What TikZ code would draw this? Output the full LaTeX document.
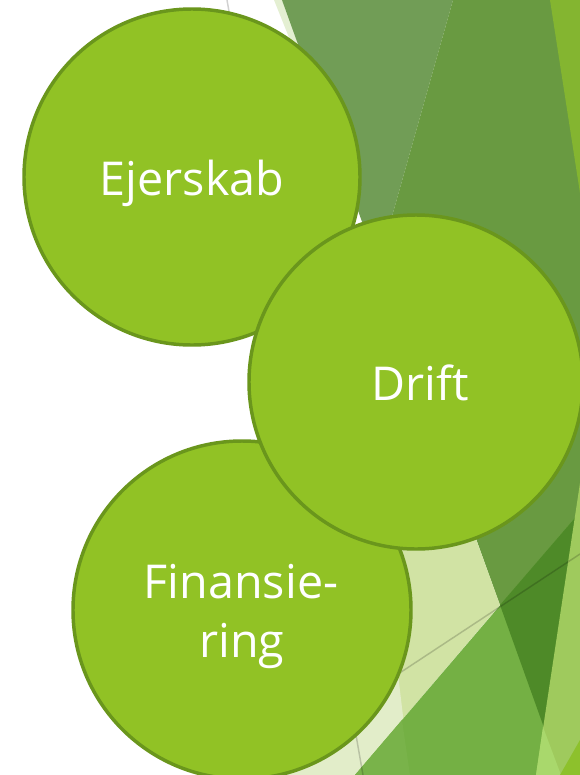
\documentclass[tikz,border=0pt]{standalone}
\usepackage{fontspec}
\setmainfont{Open Sans}
\definecolor{paleL}{HTML}{E2EDC9}
\definecolor{paleT}{HTML}{E4EFD2}
\definecolor{paleS}{HTML}{D1E3A4}
\definecolor{mutedL}{HTML}{719D56}
\definecolor{mutedD}{HTML}{699A41}
\definecolor{brightTR}{HTML}{84B530}
\definecolor{midG}{HTML}{74B044}
\definecolor{midGL}{HTML}{79B34A}
\definecolor{darkG}{HTML}{4E8A28}
\definecolor{lightG}{HTML}{9FCA5D}
\definecolor{lighterG}{HTML}{A9D86C}
\definecolor{brightBR}{HTML}{8DC12C}
\definecolor{circFill}{HTML}{91C225}
\definecolor{circLine}{HTML}{6A961C}
\tikzset{
  bubble/.style={circle, draw=circLine, fill=circFill, line width=2.6pt, inner sep=0pt, outer sep=0pt},
  lbl/.style={text=white, font=\fontsize{35}{44}\selectfont, inner sep=0pt, anchor=base},
  thinline/.style={draw=black, draw opacity=0.18, line width=1.1pt}
}
\begin{document}
\begin{tikzpicture}[x=0.75pt,y=-0.75pt]
\useasboundingbox (0,0) rectangle (580,775);
\fill[white] (0,0) rectangle (580,775);
% background facets
\fill[paleT] (274,0) -- (283,0) -- (360,215) -- cycle;
\fill[mutedL] (282,0) -- (453,0) -- (378,266) -- cycle;
\fill[mutedD] (453,0) -- (580,0) -- (580,775) -- (561,775) -- (378,266) -- cycle;
\fill[brightTR] (550,0) -- (580,0) -- (580,193) -- cycle;
\fill[paleS] (300,440) -- (440,440) -- (500,605) -- (355,775) -- (300,775) -- cycle;
\fill[paleL] (398,674) -- (410,775) -- (245,775) -- cycle;
\fill[midG] (355,775) -- (580,512) -- (580,775) -- cycle;
\fill[midGL] (402,720) -- (410,775) -- (355,775) -- cycle;
\fill[darkG] (500,605) -- (580,512) -- (580,775) -- (561,775) -- cycle;
\fill[lightG] (580,483) -- (536,775) -- (580,775) -- cycle;
\fill[lighterG] (543,727) -- (536,775) -- (561,775) -- cycle;
\fill[brightBR] (560,775) -- (580,740) -- (580,775) -- cycle;
% thin lines
\coordinate (la1) at (227,0);
\coordinate (la2) at (363,775);
\coordinate (lb1) at (245,775);
\coordinate (lb2) at (580,554);
\draw[thinline] (la1) -- (la2);
\draw[thinline] (lb1) -- (lb2);
% circles
\node[bubble, minimum size=252pt] (ejerskab) at (192,177) {};
\node[bubble, minimum size=253.5pt] (finansiering) at (242,610) {};
\node[bubble, minimum size=250.5pt] (drift) at (416,382) {};
% labels
\node[lbl] (tEjerskab) at (192,195) {Ejerskab};
\node[lbl] (tDrift) at (420,400) {Drift};
\node[lbl] (tFin1) at (241,598) {Finansie-};
\node[lbl] (tFin2) at (242,657) {ring};
\end{tikzpicture}
\end{document}
